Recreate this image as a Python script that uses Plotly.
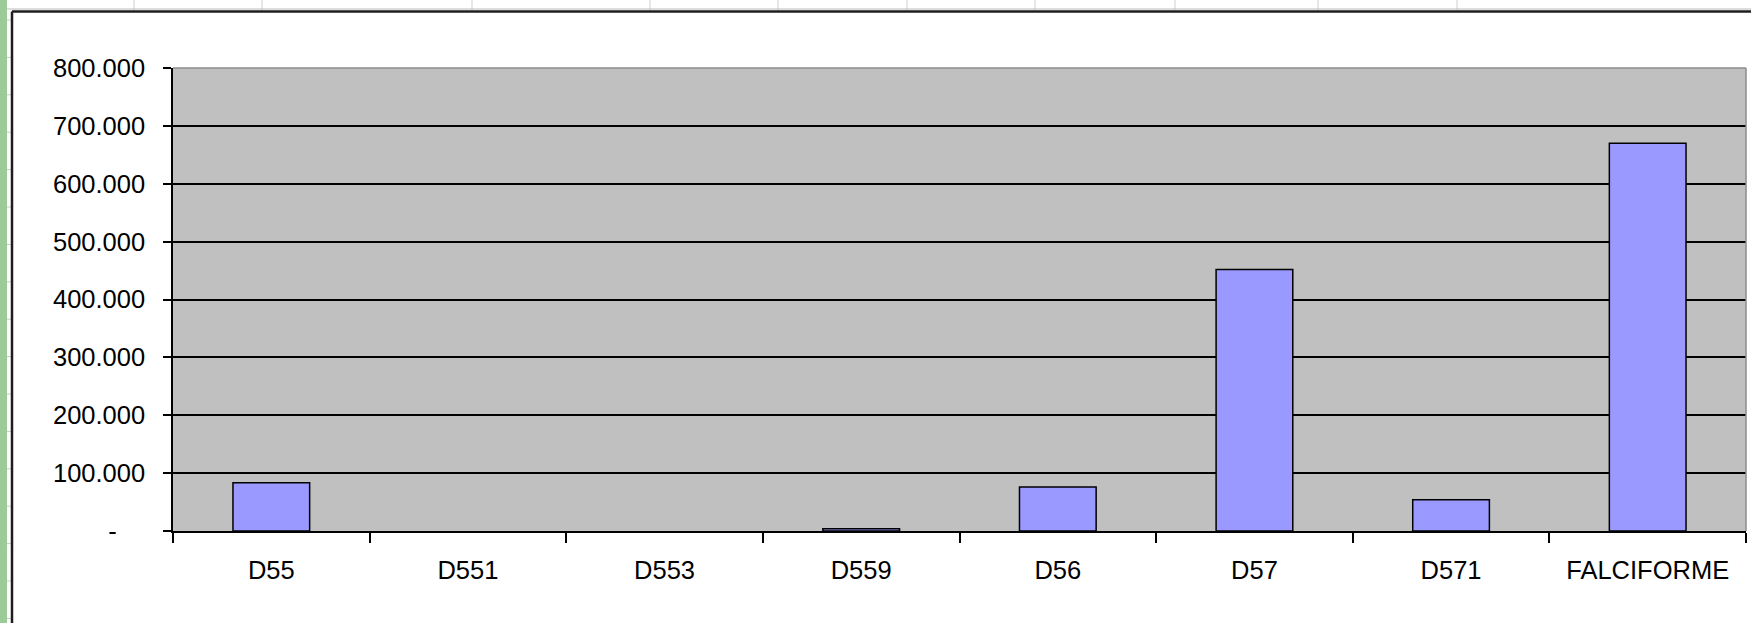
import plotly.graph_objects as go

# ---- data ----
categories = ["D55", "D551", "D553", "D559", "D56", "D57", "D571", "FALCIFORME"]
values = [83.5, 0, 0, 4, 76, 452, 54, 670]
y_tickvals = [0, 100, 200, 300, 400, 500, 600, 700, 800]
y_ticktext = ["-\u00a0\u00a0\u00a0\u00a0", "100.000", "200.000", "300.000", "400.000",
              "500.000", "600.000", "700.000", "800.000"]

W, H = 1751, 623
ML, MR, MT, MB = 173, 5, 68, 92
PW, PH = W - ML - MR, H - MT - MB


def px_x(px):
    return (px - ML) / PW


def px_y(py):
    return (H - MB - py) / PH


FONT = "Liberation Sans, Arial, sans-serif"
FS = 25.5

fig = go.Figure()
fig.add_trace(go.Bar(
    x=categories, y=values,
    marker=dict(color="#9999FF",
                line=dict(color="#000000",
                          width=[1.5 if v > 0 else 0 for v in values])),
    hoverinfo="skip",
))

shapes = []
# spreadsheet background decorations (outside the chart)
shapes.append(dict(type="rect", xref="paper", yref="paper",
                   x0=px_x(0), x1=px_x(7), y0=px_y(H), y1=px_y(0),
                   fillcolor="#9DCB98", line=dict(width=0), layer="below"))
for gx in [134, 262, 472, 650, 778, 907, 1035, 1175, 1318, 1457]:
    shapes.append(dict(type="line", xref="paper", yref="paper",
                       x0=px_x(gx), x1=px_x(gx), y0=px_y(0), y1=px_y(10),
                       line=dict(color="#CFCFCF", width=1)))
for k in range(17):
    gy = 20 + 37.4 * k
    shapes.append(dict(type="line", xref="paper", yref="paper",
                       x0=px_x(7), x1=px_x(11), y0=px_y(gy), y1=px_y(gy),
                       line=dict(color="#C8C8C8", width=1)))
# light gray band under the top border
shapes.append(dict(type="line", xref="paper", yref="paper",
                   x0=px_x(7), x1=px_x(W), y0=px_y(9), y1=px_y(9),
                   line=dict(color="#BBBBBB", width=1)))
# chart area border (top & left visible)
shapes.append(dict(type="line", xref="paper", yref="paper",
                   x0=px_x(12), x1=px_x(W), y0=px_y(11.5), y1=px_y(11.5),
                   line=dict(color="#1E1E1E", width=2.5)))
shapes.append(dict(type="line", xref="paper", yref="paper",
                   x0=px_x(12), x1=px_x(12), y0=px_y(11.5), y1=px_y(H),
                   line=dict(color="#1E1E1E", width=2.5)))
# plot area border top & right (gray)
shapes.append(dict(type="line", xref="paper", yref="paper",
                   x0=0, x1=1, y0=1, y1=1, layer="above",
                   line=dict(color="#8C8C8C", width=1.5)))
shapes.append(dict(type="line", xref="paper", yref="paper",
                   x0=1, x1=1, y0=0, y1=1, layer="above",
                   line=dict(color="#8C8C8C", width=1.5)))

fig.update_layout(
    width=W, height=H,
    margin=dict(l=ML, r=MR, t=MT, b=MB, pad=0),
    paper_bgcolor="#FFFFFF",
    plot_bgcolor="#C0C0C0",
    bargap=0.61,
    showlegend=False,
    font=dict(family=FONT, size=FS, color="#000000"),
    shapes=shapes,
    xaxis=dict(
        type="category",
        tickson="boundaries",
        ticks="outside", ticklen=10, tickwidth=1.5, tickcolor="#000000",
        showline=True, linecolor="#000000", linewidth=1.5,
        showgrid=False,
        tickfont=dict(family=FONT, size=FS, color="#000000"),
        ticklabelstandoff=16,
    ),
    yaxis=dict(
        range=[0, 800],
        tickvals=y_tickvals, ticktext=y_ticktext,
        ticks="outside", ticklen=8, tickwidth=1.5, tickcolor="#000000",
        showline=True, linecolor="#000000", linewidth=1.5,
        showgrid=True, gridcolor="#000000", gridwidth=1.5,
        zeroline=False,
        tickfont=dict(family=FONT, size=FS, color="#000000"),
        ticklabelstandoff=13,
    ),
)

fig.write_html(
    "out.html",
    config={"displayModeBar": False},
    post_script="document.body.style.margin='0';document.body.style.overflow='hidden';",
)
